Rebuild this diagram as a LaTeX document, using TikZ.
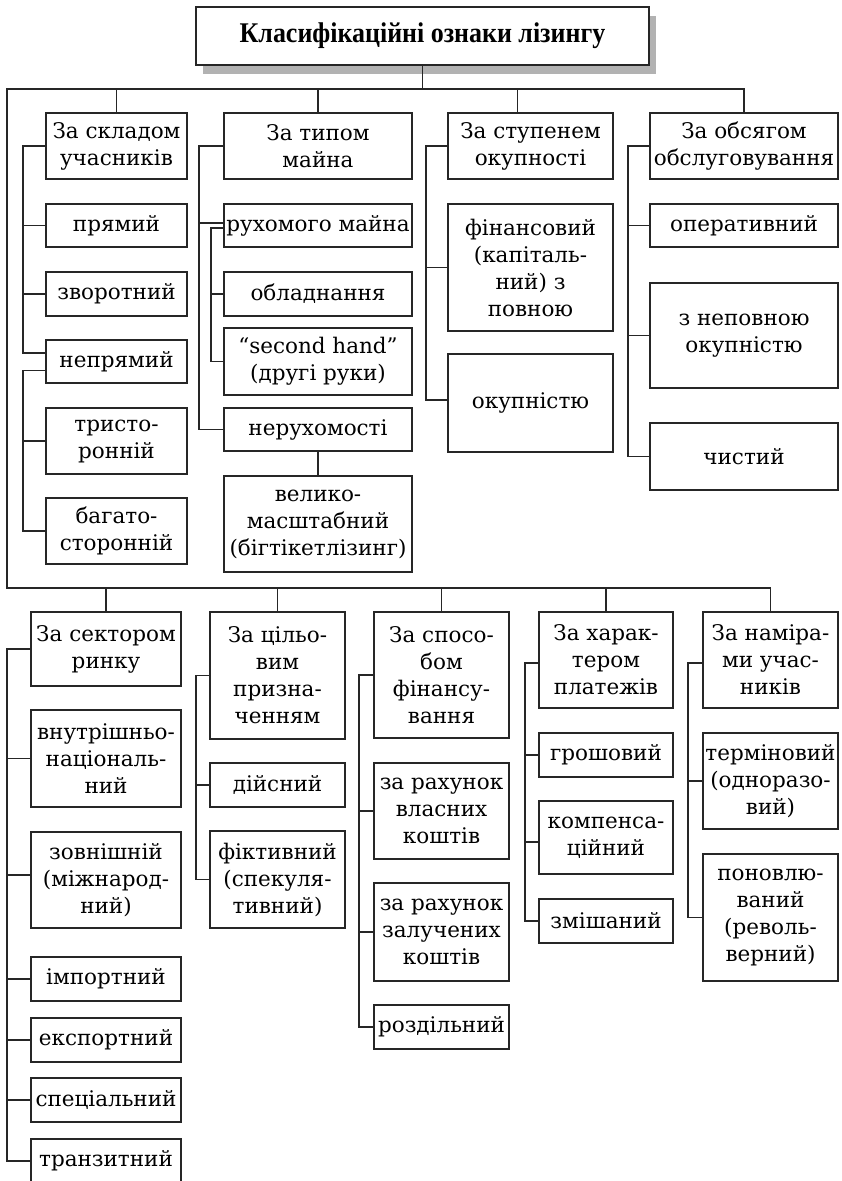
\documentclass[tikz,border=0pt]{standalone}
\usepackage{graphicx}
\usepackage{fontspec}
\setmainfont{DejaVu Serif}
\newfontfamily\headfont{Liberation Serif}
\usetikzlibrary{calc,shadows}

\tikzset{
  box/.style={draw=black!85, line width=1.4pt, fill=white, inner sep=0pt,
    align=center, font=\fontsize{21.5}{27}\selectfont},
  headbox/.style={draw=black!85, line width=1.4pt, fill=white, inner sep=0pt,
    align=center, font=\headfont\bfseries\fontsize{28.5}{30}\selectfont,
    drop shadow={shadow xshift=7pt, shadow yshift=-9pt, fill=black!30, opacity=1}},
  link/.style={draw=black!85, line width=1.4pt},
}

% box given by its corners: name, x1, y1, x2, y2, text
\newcommand\bx[6]{\node[box, minimum width={(#4-#2)*1pt}, minimum height={(#5-#3)*1pt}]
  (#1) at ({(#2+#4)/2},{(#3+#5)/2}) {#6};}

\begin{document}
\begin{tikzpicture}[x=1pt,y=-1pt]
\useasboundingbox (0,0) rectangle (841,1181);

% title
\node[headbox, minimum width=453pt, minimum height=58pt] (title) at (422.5,36)
  {\scalebox{0.91}[1]{Класифікаційні ознаки лізингу}};

% first row
\bx{a0}{46}{113}{187}{179}{За складом\\учасників}
\bx{a1}{46}{204}{187}{247}{прямий}
\bx{a2}{46}{272}{187}{316}{зворотний}
\bx{a3}{46}{340}{187}{383}{непрямий}
\bx{a4}{46}{408}{187}{474}{тристо-\\ронній}
\bx{a5}{46}{498}{187}{564}{багато-\\сторонній}

\bx{b0}{224}{113}{412}{179}{За типом\\майна}
\bx{b1}{224}{204}{412}{247}{рухомого майна}
\bx{b2}{224}{272}{412}{316}{обладнання}
\bx{b3}{224}{328}{412}{395}{“second hand”\\(другі руки)}
\bx{b4}{224}{408}{412}{451}{нерухомості}
\bx{b5}{224}{476}{412}{572}{велико-\\масштабний\\(бігтікетлізинг)}

\bx{c0}{448}{113}{613}{179}{За ступенем\\окупності}
\bx{c1}{448}{204}{613}{331}{фінансовий\\(капіталь-\\ний) з\\повною}
\bx{c2}{448}{354}{613}{452}{окупністю}

\bx{d0}{650}{113}{838}{179}{За обсягом\\обслуговування}
\bx{d1}{650}{204}{838}{247}{оперативний}
\bx{d2}{650}{283}{838}{388}{з неповною\\окупністю}
\bx{d3}{650}{423}{838}{490}{чистий}

% second row
\bx{e0}{31}{612}{181}{686}{За сектором\\ринку}
\bx{e1}{31}{710}{181}{807}{внутрішньо-\\національ-\\ний}
\bx{e2}{31}{832}{181}{928}{зовнішній\\(міжнарод-\\ний)}
\bx{e3}{31}{957}{181}{1001}{імпортний}
\bx{e4}{31}{1018}{181}{1062}{експортний}
\bx{e5}{31}{1078}{181}{1122}{спеціальний}
\bx{e6}{31}{1139}{181}{1183}{транзитний}

\bx{f0}{210}{612}{345}{739}{За цільо-\\вим\\призна-\\ченням}
\bx{f1}{210}{763}{345}{807}{дійсний}
\bx{f2}{210}{831}{345}{928}{фіктивний\\(спекуля-\\тивний)}

\bx{g0}{374}{612}{509}{738}{За спосо-\\бом\\фінансу-\\вання}
\bx{g1}{374}{763}{509}{859}{за рахунок\\власних\\коштів}
\bx{g2}{374}{883}{509}{981}{за рахунок\\залучених\\коштів}
\bx{g3}{374}{1005}{509}{1049}{роздільний}

\bx{h0}{539}{612}{673}{708}{За харак-\\тером\\платежів}
\bx{h1}{539}{733}{673}{777}{грошовий}
\bx{h2}{539}{801}{673}{874}{компенса-\\ційний}
\bx{h3}{539}{899}{673}{943}{змішаний}

\bx{i0}{703}{612}{838}{708}{За наміра-\\ми учас-\\ників}
\bx{i1}{703}{733}{838}{829}{терміновий\\(одноразо-\\вий)}
\bx{i2}{703}{854}{838}{981}{поновлю-\\ваний\\(револь-\\верний)}

% bus lines and spine positions
\coordinate (bus1) at (7,89);
\coordinate (bus2) at (7,588);
\coordinate (sA) at (23,0);
\coordinate (sB) at (199,0);
\coordinate (sBB) at (211,0);
\coordinate (sC) at (426,0);
\coordinate (sD) at (628,0);
\coordinate (sE) at (7,0);
\coordinate (sF) at (196,0);
\coordinate (sG) at (359,0);
\coordinate (sH) at (525,0);
\coordinate (sI) at (688,0);

% title to the two buses
\draw[link] (title.south) -- (title.south |- bus1);
\draw[link] (d0.north) |- (bus1) -- (bus2) -| (i0.north);
\coordinate (c0top) at ([xshift=-13pt]c0.north);
\draw[link] (a0.north) -- (a0.north |- bus1);
\draw[link] (b0.north) -- (b0.north |- bus1);
\draw[link] (c0top) -- (c0top |- bus1);
\foreach \n in {e0,f0,g0,h0}
  \draw[link] (\n.north) -- (\n.north |- bus2);

% by participants
\coordinate (a3up) at ([yshift=8.5pt]a3.west);
\coordinate (a3dn) at ([yshift=-9pt]a3.west);
\draw[link] (a0.west) -| (sA |- a3up) -- (a3up);
\foreach \n in {a1,a2}
  \draw[link] (sA |- \n.west) -- (\n.west);
\draw[link] (a3dn) -| (sA |- a5.west) -- (a5.west);
\draw[link] (sA |- a4.west) -- (a4.west);

% by type of property
\coordinate (b1up) at ([yshift=2.5pt]b1.west);
\coordinate (b1dn) at ([yshift=-2.5pt]b1.west);
\draw[link] (b0.west) -| (sB |- b4.west) -- (b4.west);
\draw[link] (sB |- b1up) -- (b1up);
\draw[link] (b1dn) -| (sBB |- b3.west) -- (b3.west);
\draw[link] (sBB |- b2.west) -- (b2.west);
\draw[link] (b4.south) -- (b5.north);

% by degree of payback
\coordinate (c2br) at ([yshift=3pt]c2.west);
\draw[link] (c0.west) -| (sC |- c2br) -- (c2br);
\draw[link] (sC |- c1.west) -- (c1.west);

% by scope of service
\draw[link] (d0.west) -| (sD |- d3.west) -- (d3.west);
\foreach \n in {d1,d2}
  \draw[link] (sD |- \n.west) -- (\n.west);

% by market sector
\coordinate (e2br) at ([yshift=5pt]e2.west);
\draw[link] (e0.west) -| (sE |- e6.west) -- (e6.west);
\foreach \n in {e1,e3,e4,e5}
  \draw[link] (sE |- \n.west) -- (\n.west);
\draw[link] (sE |- e2br) -- (e2br);

% by purpose
\draw[link] (f0.west) -| (sF |- f2.west) -- (f2.west);
\draw[link] (sF |- f1.west) -- (f1.west);

% by financing method
\draw[link] (g0.west) -| (sG |- g3.west) -- (g3.west);
\foreach \n in {g1,g2}
  \draw[link] (sG |- \n.west) -- (\n.west);

% by payment type
\coordinate (h0br) at ([yshift=-3pt]h0.west);
\coordinate (h2br) at ([yshift=-4.5pt]h2.west);
\draw[link] (h0br) -| (sH |- h3.west) -- (h3.west);
\draw[link] (sH |- h1.west) -- (h1.west);
\draw[link] (sH |- h2br) -- (h2br);

% by participants' intentions
\coordinate (i0br) at ([yshift=-3pt]i0.west);
\draw[link] (i0br) -| (sI |- i2.west) -- (i2.west);
\draw[link] (sI |- i1.west) -- (i1.west);
\end{tikzpicture}
\end{document}
